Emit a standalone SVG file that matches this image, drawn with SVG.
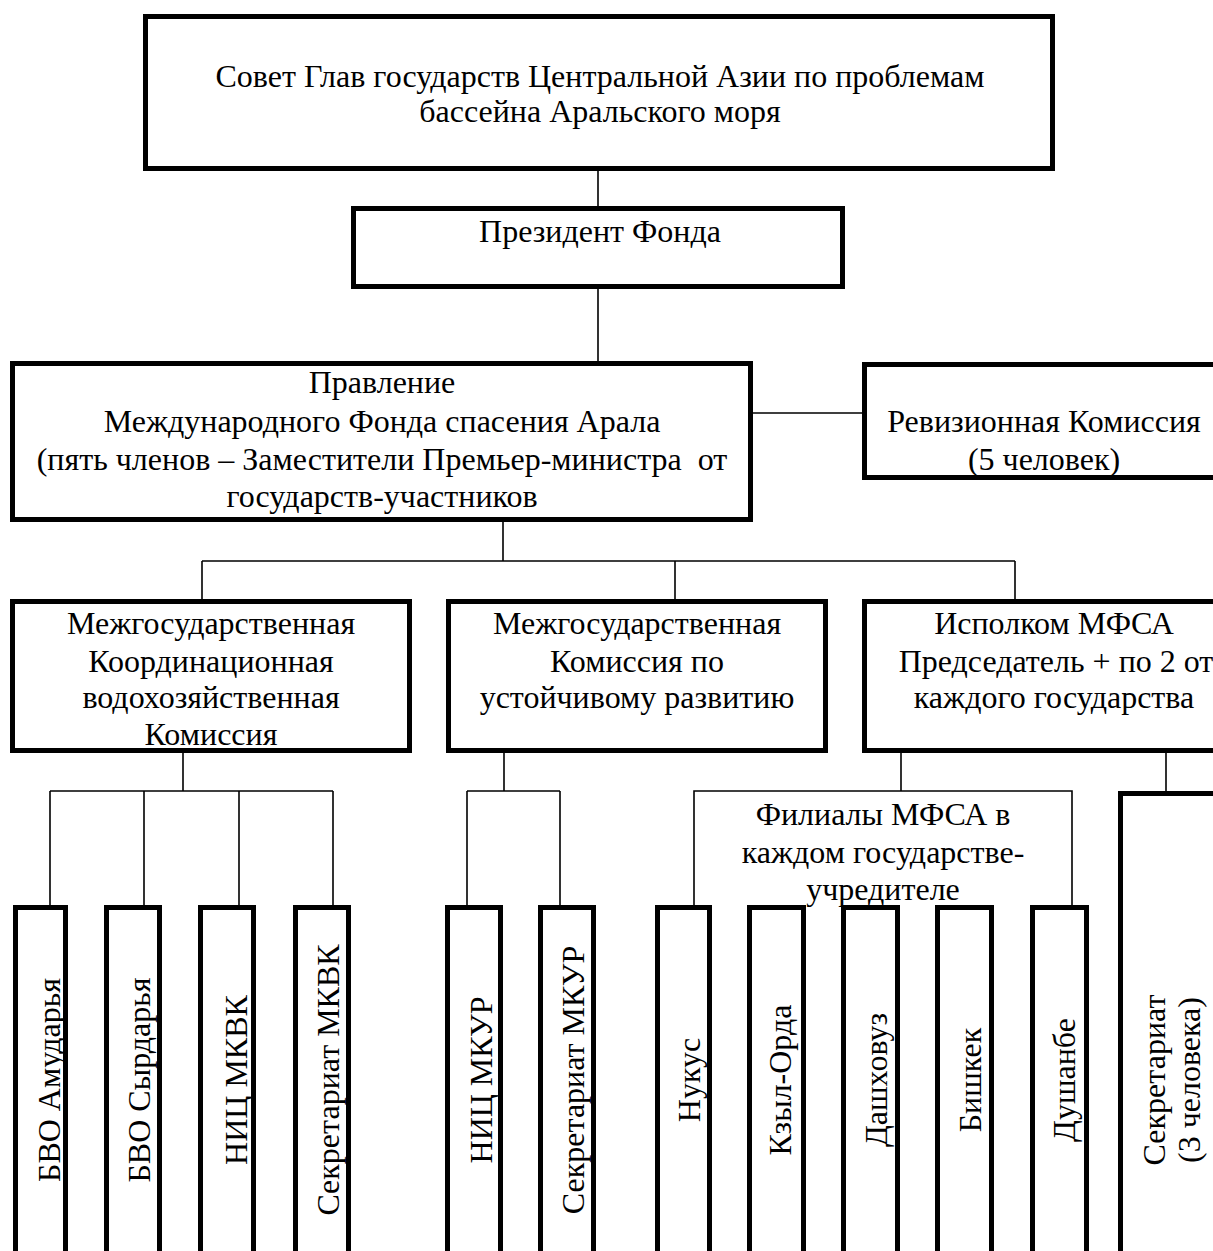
<svg xmlns="http://www.w3.org/2000/svg" width="1213" height="1251" viewBox="0 0 1213 1251">
<style>
.box{fill:#fff;stroke:#000;stroke-width:5}
.ln{fill:none;stroke:#000;stroke-width:1.6}
text{font-family:"Liberation Serif","Times New Roman",serif;font-size:32px;fill:#000;text-anchor:middle;white-space:pre}
</style>
<rect width="1213" height="1251" fill="#fff"/>
<g id="connectors">
<path class="ln" d="M598 171V206M598 289V361M753 413H862M503 522V561M202 561H1015M202 561V599M675 561V599M1015 561V599"/>
<path class="ln" d="M183 753V791M50 791H333M50 791V905M144 791V905M239 791V905M333 791V905"/>
<path class="ln" d="M504 753V791M467 791H560M467 791V905M560 791V905"/>
<path class="ln" d="M901 753V791M694 905V791H1072V905M1166 753V791"/>
</g>
<g id="n-sovet"><rect class="box" x="145.5" y="16.5" width="907" height="152"/><text x="600" y="87">Совет Глав государств Центральной Азии по проблемам</text><text x="600" y="122">бассейна Аральского моря</text></g>
<g id="n-president"><rect class="box" x="353.5" y="208.5" width="489" height="78"/><text x="600" y="242">Президент Фонда</text></g>
<g id="n-pravlenie"><rect class="box" x="12.5" y="363.5" width="738" height="156"/><text x="382" y="393">Правление</text><text x="382" y="432">Международного Фонда спасения Арала</text><text x="382" y="470">(пять членов – Заместители Премьер-министра  от</text><text x="382" y="507">государств-участников</text></g>
<g id="n-revizion"><rect class="box" x="864.5" y="364.5" width="380" height="113"/><text x="1044" y="432">Ревизионная Комиссия</text><text x="1044" y="470">(5 человек)</text></g>
<g id="n-mkvk"><rect class="box" x="12.5" y="601.5" width="397" height="149"/><text x="211" y="634">Межгосударственная</text><text x="211" y="672">Координационная</text><text x="211" y="708">водохозяйственная</text><text x="211" y="745">Комиссия</text></g>
<g id="n-mkur"><rect class="box" x="448.5" y="601.5" width="377" height="149"/><text x="637" y="634">Межгосударственная</text><text x="637" y="672">Комиссия по</text><text x="637" y="708">устойчивому развитию</text></g>
<g id="n-ispolkom"><rect class="box" x="864.5" y="601.5" width="380" height="149"/><text x="1054" y="634">Исполком МФСА</text><text x="1056" y="672">Председатель + по 2 от</text><text x="1054" y="708">каждого государства</text></g>
<g id="n-filial"><text x="883" y="825">Филиалы МФСА в</text><text x="883" y="863">каждом государстве-</text><text x="883" y="900">учредителе</text></g>
<g id="n-bvo-amu"><rect class="box" x="15.5" y="907.5" width="50" height="360"/><text transform="translate(60 1080) rotate(-90)">БВО Амударья</text></g>
<g id="n-bvo-syr"><rect class="box" x="106.5" y="907.5" width="53" height="360"/><text transform="translate(150 1080) rotate(-90)">БВО Сырдарья</text></g>
<g id="n-nic-mkvk"><rect class="box" x="200.5" y="907.5" width="53" height="360"/><text transform="translate(247 1080) rotate(-90)">НИЦ МКВК</text></g>
<g id="n-sek-mkvk"><rect class="box" x="295.5" y="907.5" width="53" height="360"/><text transform="translate(339 1080) rotate(-90)">Секретариат МКВК</text></g>
<g id="n-nic-mkur"><rect class="box" x="447.5" y="907.5" width="53" height="360"/><text transform="translate(492 1080) rotate(-90)">НИЦ МКУР</text></g>
<g id="n-sek-mkur"><rect class="box" x="540.5" y="907.5" width="53" height="360"/><text transform="translate(584 1080) rotate(-90)">Секретариат МКУР</text></g>
<g id="n-nukus"><rect class="box" x="657.5" y="907.5" width="52" height="360"/><text transform="translate(700 1080) rotate(-90)">Нукус</text></g>
<g id="n-kzyl"><rect class="box" x="749.5" y="907.5" width="54" height="360"/><text transform="translate(791 1080) rotate(-90)">Кзыл-Орда</text></g>
<g id="n-dash"><rect class="box" x="843.5" y="907.5" width="54" height="360"/><text transform="translate(887 1080) rotate(-90)">Дашховуз</text></g>
<g id="n-bish"><rect class="box" x="937.5" y="907.5" width="54" height="360"/><text transform="translate(981 1080) rotate(-90)">Бишкек</text></g>
<g id="n-dush"><rect class="box" x="1032.5" y="907.5" width="54" height="360"/><text transform="translate(1075 1080) rotate(-90)">Душанбе</text></g>
<g id="n-sekretariat"><rect class="box" x="1120.5" y="793.5" width="120" height="480"/><text transform="translate(1165 1080) rotate(-90)">Секретариат</text><text transform="translate(1200 1080) rotate(-90)">(3 человека)</text></g>
</svg>
